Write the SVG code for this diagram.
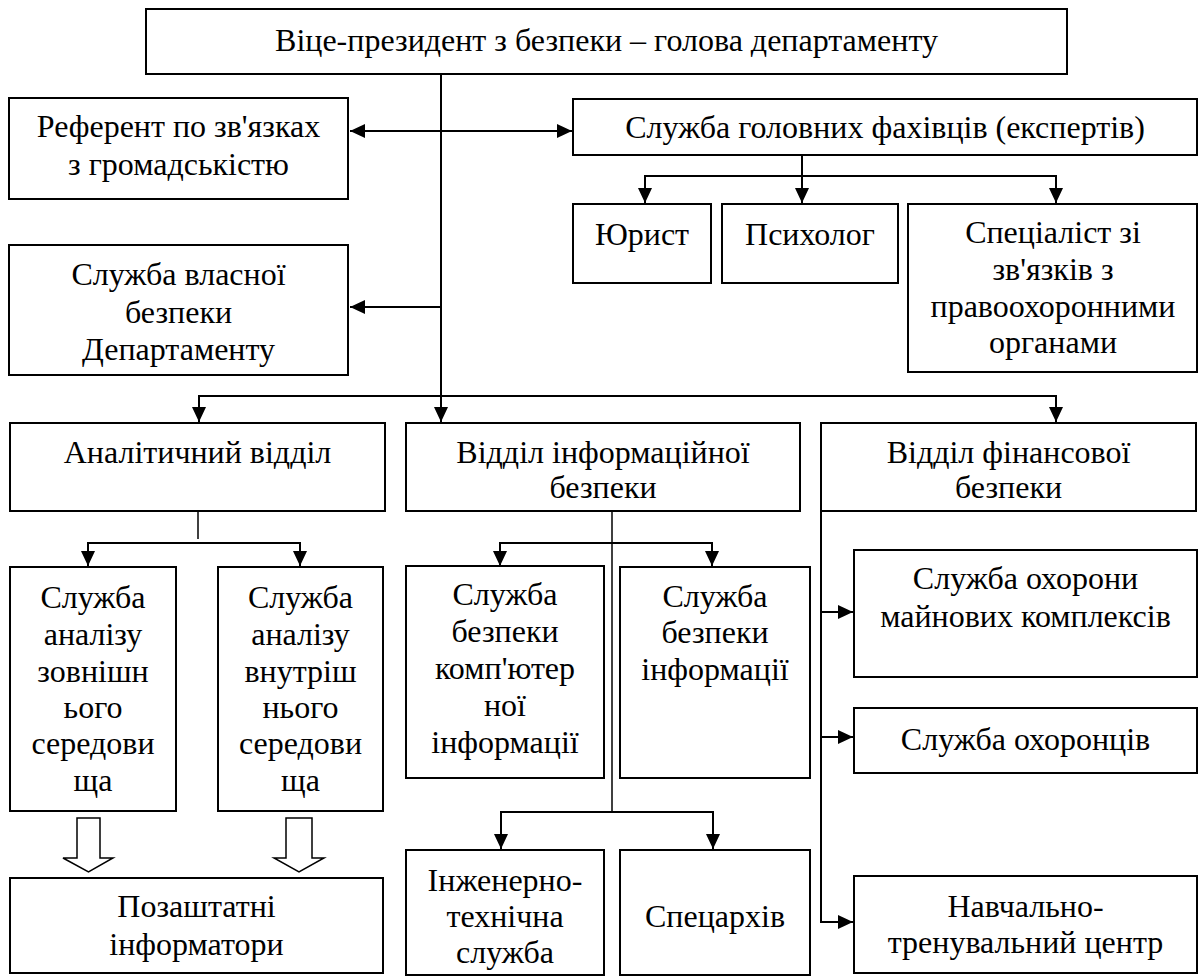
<svg xmlns="http://www.w3.org/2000/svg" width="1199" height="977" viewBox="0 0 1199 977">
<style>
.box{fill:#fff;stroke:#000;stroke-width:2}
.t{font-family:"Liberation Serif","Times New Roman",serif;font-size:32px;fill:#000;text-anchor:middle}
.c{fill:none;stroke:#000;stroke-width:2}
.ct{fill:none;stroke:#000;stroke-width:1.5}
.ha{fill:#fff;stroke:#000;stroke-width:1.5}
</style>
<defs>
<marker id="ah" markerUnits="userSpaceOnUse" markerWidth="15" markerHeight="14" refX="15" refY="7" orient="auto">
<path d="M0,0 L15,7 L0,14 Z" fill="#000"/>
</marker>
</defs>
<rect width="1199" height="977" fill="#fff"/>

<g id="connectors">
<path class="c" d="M441,74 V396"/>
<path class="c" d="M441,131 H350" marker-end="url(#ah)"/>
<path class="c" d="M441,131 H572" marker-end="url(#ah)"/>
<path class="c" d="M441,307 H350" marker-end="url(#ah)"/>
<path class="c" d="M199,423 V396 H1056 V422" marker-end="url(#ah)"/>
<path class="c" d="M199,396 V422" marker-end="url(#ah)"/>
<path class="c" d="M441,396 V422" marker-end="url(#ah)"/>
<path class="c" d="M802,155 V203" marker-end="url(#ah)"/>
<path class="c" d="M645,203 V176 H1056 V203" marker-end="url(#ah)"/>
<path class="c" d="M645,176 V203" marker-end="url(#ah)"/>
<path class="ct" d="M198,511 V539"/>
<path class="c" d="M88,566 V543 H300 V566" marker-end="url(#ah)"/>
<path class="c" d="M88,543 V566" marker-end="url(#ah)"/>
<path class="ct" d="M612,511 V812"/>
<path class="c" d="M500,566 V543 H712 V566" marker-end="url(#ah)"/>
<path class="c" d="M500,543 V566" marker-end="url(#ah)"/>
<path class="c" d="M501,849 V812 H713 V849" marker-end="url(#ah)"/>
<path class="c" d="M501,812 V849" marker-end="url(#ah)"/>
<path class="c" d="M821,511 V922 H853" marker-end="url(#ah)"/>
<path class="c" d="M821,612 H853" marker-end="url(#ah)"/>
<path class="c" d="M821,737 H853" marker-end="url(#ah)"/>
<polygon class="ha" points="77,818 100,818 100,858 113,858 88.5,872 63,858 77,858"/>
<polygon class="ha" points="286,818 312,818 312,858 324,858 299,872 274,858 286,858"/>
</g>

<g id="n-vp">
<rect class="box" x="146" y="9" width="921" height="65"/>
<text class="t" x="606.5" y="51">Віце-президент з безпеки – голова департаменту</text>
</g>
<g id="n-referent">
<rect class="box" x="9" y="98" width="339" height="101"/>
<text class="t" x="178.5" y="137"><tspan x="178.5">Референт по зв'язках</tspan><tspan x="178.5" y="175">з громадськістю</tspan></text>
</g>
<g id="n-experts">
<rect class="box" x="573" y="99" width="624" height="56"/>
<text class="t" x="885" y="138">Служба головних фахівців (експертів)</text>
</g>
<g id="n-lawyer">
<rect class="box" x="573" y="204" width="138" height="79"/>
<text class="t" x="642" y="245">Юрист</text>
</g>
<g id="n-psych">
<rect class="box" x="722" y="204" width="176" height="79"/>
<text class="t" x="810" y="245">Психолог</text>
</g>
<g id="n-law-enf">
<rect class="box" x="908" y="204" width="289" height="168"/>
<text class="t" x="1053" y="243"><tspan x="1053">Спеціаліст зі</tspan><tspan x="1053" y="280">зв'язків з</tspan><tspan x="1053" y="317">правоохоронними</tspan><tspan x="1053" y="353">органами</tspan></text>
</g>
<g id="n-own-sec">
<rect class="box" x="9" y="245" width="339" height="130"/>
<text class="t" x="178.5" y="285"><tspan x="178.5">Служба власної</tspan><tspan x="178.5" y="323">безпеки</tspan><tspan x="178.5" y="360">Департаменту</tspan></text>
</g>
<g id="n-analytic">
<rect class="box" x="10" y="423" width="375" height="88"/>
<text class="t" x="197.5" y="463">Аналітичний відділ</text>
</g>
<g id="n-infosec">
<rect class="box" x="406" y="423" width="394" height="88"/>
<text class="t" x="603" y="463"><tspan x="603">Відділ інформаційної</tspan><tspan x="603" y="498">безпеки</tspan></text>
</g>
<g id="n-finsec">
<rect class="box" x="821" y="423" width="375" height="88"/>
<text class="t" x="1008.5" y="463"><tspan x="1008.5">Відділ фінансової</tspan><tspan x="1008.5" y="498">безпеки</tspan></text>
</g>
<g id="n-ext">
<rect class="box" x="10" y="567" width="166" height="244"/>
<text class="t" x="93" y="608"><tspan x="93">Служба</tspan><tspan x="93" y="645">аналізу</tspan><tspan x="93" y="682">зовнішн</tspan><tspan x="93" y="718">ього</tspan><tspan x="93" y="754">середови</tspan><tspan x="93" y="791">ща</tspan></text>
</g>
<g id="n-int">
<rect class="box" x="218" y="567" width="165" height="244"/>
<text class="t" x="300.5" y="608"><tspan x="300.5">Служба</tspan><tspan x="300.5" y="645">аналізу</tspan><tspan x="300.5" y="682">внутріш</tspan><tspan x="300.5" y="718">нього</tspan><tspan x="300.5" y="754">середови</tspan><tspan x="300.5" y="791">ща</tspan></text>
</g>
<g id="n-comp">
<rect class="box" x="406" y="566" width="198" height="212"/>
<text class="t" x="505" y="605"><tspan x="505">Служба</tspan><tspan x="505" y="642">безпеки</tspan><tspan x="505" y="679">комп'ютер</tspan><tspan x="505" y="716">ної</tspan><tspan x="505" y="753">інформації</tspan></text>
</g>
<g id="n-info">
<rect class="box" x="620" y="567" width="190" height="211"/>
<text class="t" x="715" y="607"><tspan x="715">Служба</tspan><tspan x="715" y="643">безпеки</tspan><tspan x="715" y="680">інформації</tspan></text>
</g>
<g id="n-property">
<rect class="box" x="854" y="550" width="343" height="127"/>
<text class="t" x="1025.5" y="589"><tspan x="1025.5">Служба охорони</tspan><tspan x="1025.5" y="627">майнових комплексів</tspan></text>
</g>
<g id="n-guards">
<rect class="box" x="854" y="708" width="343" height="65"/>
<text class="t" x="1025.5" y="750">Служба охоронців</text>
</g>
<g id="n-informers">
<rect class="box" x="10" y="878" width="373" height="95"/>
<text class="t" x="196.5" y="917"><tspan x="196.5">Позаштатні</tspan><tspan x="196.5" y="955">інформатори</tspan></text>
</g>
<g id="n-eng">
<rect class="box" x="406" y="850" width="198" height="125"/>
<text class="t" x="505" y="891"><tspan x="505">Інженерно-</tspan><tspan x="505" y="927">технічна</tspan><tspan x="505" y="963">служба</tspan></text>
</g>
<g id="n-archive">
<rect class="box" x="620" y="850" width="190" height="125"/>
<text class="t" x="715" y="927">Спецархів</text>
</g>
<g id="n-training">
<rect class="box" x="854" y="876" width="343" height="97"/>
<text class="t" x="1025.5" y="917"><tspan x="1025.5">Навчально-</tspan><tspan x="1025.5" y="953">тренувальний центр</tspan></text>
</g>
</svg>
